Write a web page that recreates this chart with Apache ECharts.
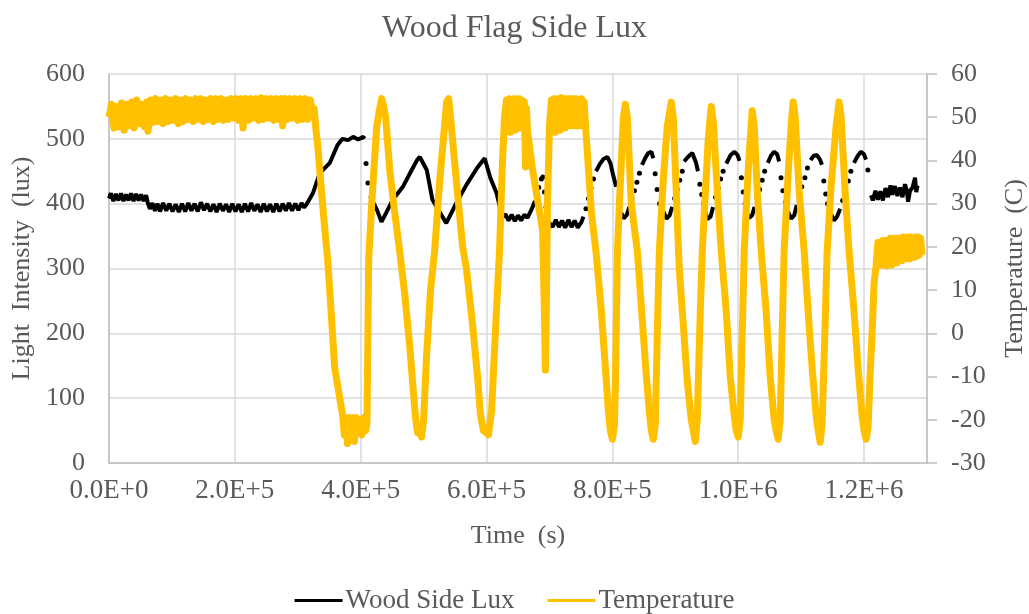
<!DOCTYPE html>
<html>
<head>
<meta charset="utf-8">
<script src="https://cdn.jsdelivr.net/npm/echarts@6.0.0/dist/echarts.min.js"></script>
<style>
html,body{margin:0;padding:0;background:#fff;}
#chart{width:1029px;height:614px;}
</style>
</head>
<body>
<div id="chart"></div>
<script>
// ---------- DATA (time in s) ----------
var chartTitle = 'Wood Flag Side Lux';
var xTickLabels = ['0.0E+0','2.0E+5','4.0E+5','6.0E+5','8.0E+5','1.0E+6','1.2E+6'];
var seriesNames = ['Wood Side Lux', 'Temperature'];

// Wood Side Lux (lux), left axis: continuous stretches
var luxSeg1 = [[0,408],[3000,416],[7000,404],[11000,415],[15000,405],[19000,416],[23000,404],[27000,414],[31000,405],[35000,416],[39000,404],[43000,415],[47000,405],[51000,414],[55000,404],[59000,413],[62000,400],[65000,392],[69000,401],[73000,389],[77000,400],[81000,388],[86000,401],[91000,389],[96000,400],[101000,388],[106000,399],[111000,387],[116000,400],[121000,388],[126000,401],[131000,389],[136000,400],[141000,388],[146000,402],[151000,390],[156000,400],[161000,388],[166000,399],[171000,387],[176000,400],[181000,389],[186000,399],[191000,387],[196000,400],[201000,388],[206000,399],[211000,387],[216000,400],[221000,388],[226000,401],[231000,389],[236000,399],[241000,387],[246000,400],[251000,388],[256000,399],[261000,387],[266000,400],[271000,388],[276000,400],[281000,389],[286000,401],[291000,389],[296000,400],[301000,390],[306000,401],[310000,394],[314000,399],[324000,416],[335000,447],[351000,463],[363000,490],[371000,500],[380000,498],[388000,503],[396000,499],[404000,503],[406000,500]];
var luxSeg2 = [[415000,412],[419000,404],[426000,390],[433000,372],[440000,385],[451000,406],[467000,426],[480000,450],[490000,468],[494000,472],[505000,452],[514000,406],[525000,388],[536000,370],[552000,401],[568000,429],[585000,455],[597000,470],[606000,440],[616000,416],[625000,379],[630000,384],[635000,374],[640000,383],[645000,373],[650000,382],[655000,374],[660000,383],[665000,378],[671000,390],[677000,404]];
var luxSeg3 = [[697000,374],[700000,370],[705000,364],[710000,375],[715000,364],[720000,374],[725000,363],[730000,375],[735000,364],[740000,374],[745000,363],[751000,372],[754000,380]];
var luxSeg4 = [[774000,450],[780000,461],[786000,469],[792000,472],[797000,462],[801000,445],[806000,426]];
var luxSeg5 = [[814000,386],[818000,377],[823000,383],[827000,395]];
var luxSeg6 = [[847000,460],[852000,470],[857000,478],[862000,480],[865000,470]];
var luxSeg7 = [[880000,390],[886000,377],[891000,382],[895000,395]];
var luxSeg8 = [[914000,465],[920000,472],[927000,478],[933000,463],[936000,450]];
var luxSeg9 = [[947000,390],[951000,376],[956000,380],[960000,395]];
var luxSeg10 = [[981000,462],[988000,475],[994000,480],[999000,475],[1002000,466]];
var luxSeg11 = [[1013000,388],[1017000,378],[1022000,382],[1026000,395]];
var luxSeg12 = [[1047000,463],[1052000,474],[1057000,480],[1062000,476],[1065000,465]];
var luxSeg13 = [[1079000,388],[1084000,377],[1089000,382],[1093000,398]];
var luxSeg14 = [[1115000,467],[1120000,474],[1125000,475],[1130000,468],[1133000,460]];
var luxSeg15 = [[1146000,388],[1152000,374],[1157000,380],[1162000,392]];
var luxSeg16 = [[1184000,463],[1190000,474],[1195000,480],[1200000,476],[1203000,468]];
var luxSeg17 = [[1211000,413],[1214000,405],[1218000,420],[1222000,406],[1226000,419],[1230000,405],[1234000,424],[1238000,410],[1242000,428],[1245000,414],[1249000,427],[1253000,412],[1257000,425],[1261000,410],[1265000,430],[1268000,420],[1270000,403],[1273000,420],[1277000,425],[1281000,440],[1283000,418],[1285000,428]];
// Wood Side Lux: sparse samples on the fast transitions
var luxDots = [[408500,462],[411500,432],
  [683000,425],[687000,438],[689500,441],[692000,418],[694500,395],
  [758000,392],[762000,408],[766000,424],[770000,438],
  [810000,405],
  [831000,408],[835000,420],[839000,433],[843000,447],
  [868000,446],[871000,422],[875000,400],
  [899000,408],[903000,422],[907000,436],[911000,450],
  [939000,430],[942000,414],[945000,400],
  [964000,410],[968000,424],[972000,438],[976000,450],
  [1005000,440],[1008000,418],[1011000,400],
  [1030000,408],[1034000,422],[1038000,436],[1042000,450],
  [1068000,440],[1071000,420],[1075000,402],
  [1097000,412],[1101000,426],[1106000,440],[1110000,455],
  [1136000,435],[1139000,415],[1142000,400],
  [1166000,405],[1170000,420],[1175000,435],[1179000,450],
  [1206000,452]];

// Temperature (C), right axis
var tempPlateau1 = [[0,50],[4000,53],[8000,47.5],[12000,52.5],[16000,47.8],[20000,53.3],[24000,47],[28000,53],[32000,48],[36000,53.5],[40000,47.5],[44000,54],[48000,48.5],[52000,53],[56000,47.8],[60000,53.5],[62000,46.8],[66000,54],[70000,48.8],[74000,54.3],[78000,49],[82000,54],[86000,48.5],[90000,54.3],[94000,49],[98000,54],[102000,49.3],[106000,54.3],[110000,48.5],[114000,54],[118000,49],[122000,54.3],[126000,49.5],[130000,54],[134000,49],[138000,54.3],[142000,49.5],[146000,54.3],[150000,49],[154000,54],[158000,49.5],[162000,54.3],[166000,49],[170000,54.3],[174000,49.5],[178000,54.3],[182000,49.3],[186000,54],[190000,49.5],[194000,54.3],[198000,49.8],[202000,54.3],[206000,49.3],[210000,54.3],[213000,47.5],[218000,54.3],[222000,49.3],[226000,54.3],[230000,49.8],[234000,54.3],[238000,49.3],[242000,54.5],[246000,49.5],[250000,54.3],[254000,49.8],[258000,54.3],[262000,49.3],[266000,54.3],[270000,49.5],[274000,54.3],[276000,48],[280000,54.3],[284000,49.5],[288000,54.3],[292000,49.8],[296000,54.3],[300000,49.3],[304000,54.3],[308000,49.5],[312000,54.3],[316000,49.5],[320000,54],[324000,50]];
var tempDrop1 = [[326000,52],[329000,47],[332000,43],[336500,35],[343000,24],[347600,17],[353000,5],[358700,-8],[366700,-15],[371400,-19]];
var tempBottom1 = [[374000,-23.5],[377000,-19.5],[379000,-25.5],[382000,-19.5],[385000,-23.5],[388000,-19.5],[390000,-25],[393000,-19.5],[396000,-23],[399000,-20],[402000,-23.5],[405000,-19.5],[408000,-22.5],[410000,-21]];
var tempCycles1 = [[412700,17],[417500,30],[425400,47.7],[430200,52],[433300,54.3],[436500,52.5],[439700,50],[441300,47],[446000,38],[454000,28],[462000,19],[470000,9],[478000,-3],[484000,-14],[487500,-20],[490500,-23],[493700,-21.5],[496800,-24],[500000,-20],[504800,-5],[511000,10],[517500,19],[525400,35],[533300,48],[536500,53.5],[539700,54.3],[542800,50],[549000,40],[562000,20],[568000,15],[577800,2],[585700,-10],[590500,-19],[595000,-22.5],[600000,-23],[603000,-23.5],[608000,-18],[614000,0],[620600,19],[625400,40],[628600,50],[631800,54]];
var tempPlateau2 = [[634000,47],[636000,54.3],[638000,46.5],[640000,54],[642000,47.5],[644000,54.3],[646000,47],[648000,54.3],[650000,48],[652000,54.3],[654000,47.5],[656000,54],[658000,48.5],[660000,53.5],[662000,38.5],[663500,52],[665000,47],[673000,38],[689000,24],[692000,5],[693600,-8.5],[695000,5],[696800,30],[700000,48],[703200,54]];
var tempPlateau3 = [[705000,47],[707000,54.3],[709000,46.5],[711000,54.3],[713000,47.5],[715000,54.3],[717000,47],[719000,54.5],[721000,48],[723000,54.3],[725000,47.5],[727000,54.3],[729000,48],[731000,54.3],[733000,48.5],[735000,54.3],[737000,48],[739000,54.3],[741000,48.5],[743000,54.3],[745000,48],[747000,54],[749000,48.5],[751000,54.3],[753000,48],[755000,53.5]];
var tempCycles2 = [[758700,45],[766700,28],[774600,18],[782500,5],[788900,-8],[793700,-18],[796800,-22.5],[800000,-24.5],[803200,-21.5],[804800,-12],[808000,19],[812700,35],[817500,50],[820600,53],[823800,50],[830000,30],[839700,19],[847600,3],[854000,-10],[858700,-18],[861900,-22.5],[865000,-24.5],[868200,-21],[871400,0],[874600,19],[881000,36],[887300,48],[893600,53.5],[896800,50],[906300,15],[912700,2],[919000,-11],[925400,-20],[928600,-22.5],[931700,-25],[934900,-20],[939700,5],[942900,19],[946000,28],[952400,45],[957100,52.5],[960300,49],[966700,33],[973000,19],[981000,5],[987300,-10],[993700,-19],[996800,-22.5],[1000000,-24],[1003200,-20],[1006400,0],[1009500,19],[1015900,38],[1022200,51.5],[1025400,48],[1030200,33],[1036500,19],[1044400,5],[1050800,-10],[1057100,-20],[1060300,-22.5],[1063500,-24.5],[1066700,-20],[1069800,0],[1073000,19],[1079400,37],[1084100,48],[1087300,53.5],[1090500,50],[1096800,33],[1104800,19],[1111100,5],[1117500,-8],[1123800,-19],[1127000,-22.5],[1130200,-25.2],[1133300,-21],[1138100,2],[1141300,19],[1147600,34],[1155600,48],[1160300,53.5],[1163500,50],[1169800,33],[1176200,19],[1184100,5],[1190500,-8],[1196800,-19],[1200000,-22.5],[1203200,-24.5],[1206300,-22],[1209500,-10],[1212700,0],[1215900,11.6],[1219000,15.5],[1222000,21]];
var tempEnd = [[1224000,15.8],[1226000,21],[1228000,15.8],[1230000,21.5],[1232000,16.3],[1234000,21.5],[1236000,15.6],[1238000,21.5],[1240000,16.3],[1242000,22],[1244000,15.8],[1246000,22],[1248000,16.8],[1250000,22],[1252000,16.3],[1254000,22],[1256000,17.2],[1258000,22],[1260000,16.8],[1262000,22.3],[1264000,17.2],[1266000,22],[1268000,17.6],[1270000,22.3],[1272000,17.2],[1274000,22.3],[1276000,17.6],[1278000,22],[1280000,17.6],[1282000,22.3],[1284000,17.8],[1286000,22.3],[1288000,18.2],[1290000,22],[1292000,18.2]];

// ---------- CHART ----------
var luxSegments = [luxSeg1, luxSeg2, luxSeg3, luxSeg4, luxSeg5, luxSeg6, luxSeg7, luxSeg8, luxSeg9,
                   luxSeg10, luxSeg11, luxSeg12, luxSeg13, luxSeg14, luxSeg15, luxSeg16, luxSeg17];
function joinWithBreaks(segs) {
  var out = [];
  for (var i = 0; i < segs.length; i++) {
    if (i > 0) {
      var prev = segs[i - 1][segs[i - 1].length - 1][0];
      out.push([(prev + segs[i][0][0]) / 2, null]); // gap in the line
    }
    out = out.concat(segs[i]);
  }
  return out;
}
var luxLineData = joinWithBreaks(luxSegments);
var tempData = tempPlateau1.concat(tempDrop1, tempBottom1, tempCycles1, tempPlateau2, tempPlateau3, tempCycles2, tempEnd);

var FONT = "'Liberation Serif','Times New Roman',serif";
var TXT = '#595959';
var GRID = '#d9d9d9';
var AXIS = '#bfbfbf';

function xLabel(v) {
  var idx = Math.round(v / 200000);
  if (Math.abs(v - idx * 200000) > 1) return '';
  return xTickLabels[idx] || '';
}

var chart = echarts.init(document.getElementById('chart'), null, {renderer: 'canvas'});
chart.setOption({
  animation: false,
  backgroundColor: '#fff',
  title: {
    text: chartTitle,
    left: 'center',
    top: 8,
    textStyle: {fontFamily: FONT, fontSize: 32, fontWeight: 'normal', color: TXT}
  },
  legend: {
    data: [
      {name: seriesNames[0], icon: 'rect', itemStyle: {color: '#000000'}},
      {name: seriesNames[1], icon: 'rect', itemStyle: {color: '#FFC000'}}
    ],
    top: 582,
    left: 'center',
    itemWidth: 48,
    itemHeight: 3,
    itemGap: 33,
    textStyle: {fontFamily: FONT, fontSize: 27, color: TXT, padding: [0,0,0,-2]}
  },
  grid: {left: 109, right: 102, top: 74, bottom: 151, outerBoundsMode: 'none', containLabel: false},
  xAxis: {
    type: 'value',
    min: 0,
    max: 1300000,
    interval: 200000,
    name: 'Time  (s)',
    nameLocation: 'middle',
    nameGap: 60,
    nameTextStyle: {fontFamily: FONT, fontSize: 26, color: TXT},
    axisLine: {show: true, lineStyle: {color: AXIS, width: 1.5}},
    axisTick: {show: false},
    axisLabel: {fontFamily: FONT, fontSize: 27, color: TXT, margin: 14, formatter: xLabel, showMaxLabel: false},
    splitLine: {show: true, lineStyle: {color: GRID, width: 1.5}}
  },
  yAxis: [
    {
      type: 'value',
      min: 0, max: 600, interval: 100,
      position: 'left',
      name: 'Light  Intensity  (lux)',
      nameLocation: 'middle',
      nameGap: 64,
      nameTextStyle: {fontFamily: FONT, fontSize: 26, color: TXT},
      axisLine: {show: true, lineStyle: {color: AXIS, width: 1.5}},
      axisTick: {show: false},
      axisLabel: {fontFamily: FONT, fontSize: 26, color: TXT, margin: 24},
      splitLine: {show: true, lineStyle: {color: GRID, width: 1.5}}
    },
    {
      type: 'value',
      min: -30, max: 60, interval: 10,
      position: 'right',
      name: 'Temperature  (C)',
      nameLocation: 'middle',
      nameGap: 75,
      nameRotate: 90,
      nameTextStyle: {fontFamily: FONT, fontSize: 26, color: TXT},
      axisLine: {show: true, lineStyle: {color: AXIS, width: 1.5}},
      axisTick: {show: true, inside: false, length: 10, lineStyle: {color: AXIS, width: 1.5}},
      axisLabel: {fontFamily: FONT, fontSize: 26, color: TXT, margin: 24},
      splitLine: {show: false}
    }
  ],
  series: [
    {
      name: seriesNames[0],
      type: 'line',
      yAxisIndex: 0,
      data: luxLineData,
      connectNulls: false,
      showSymbol: false,
      symbol: 'none',
      lineStyle: {color: '#000000', width: 4},
      itemStyle: {color: '#000000'},
      z: 2
    },
    {
      name: seriesNames[0],
      type: 'scatter',
      yAxisIndex: 0,
      data: luxDots,
      symbol: 'circle',
      symbolSize: 5,
      itemStyle: {color: '#000000', opacity: 1},
      z: 2
    },
    {
      name: seriesNames[1],
      type: 'line',
      yAxisIndex: 1,
      data: tempData,
      showSymbol: false,
      symbol: 'none',
      lineStyle: {color: '#FFC000', width: 7, join: 'round'},
      itemStyle: {color: '#FFC000'},
      z: 3
    }
  ]
});
</script>
</body>
</html>
